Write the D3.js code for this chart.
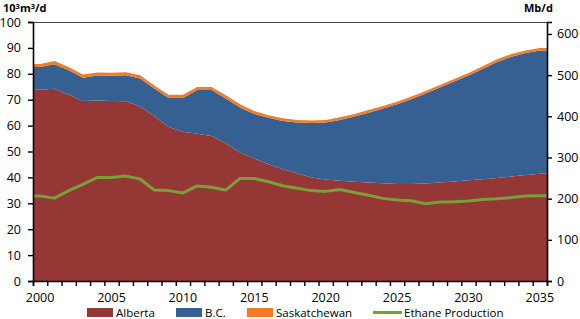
<!DOCTYPE html>
<html>
<head>
<meta charset="utf-8">
<script src="https://cdn.jsdelivr.net/npm/d3@7"></script>
<style>
  body { margin: 0; background: #fff; }
  svg text { font-family: "Open Sans", "Liberation Sans", sans-serif; fill: #000; }
</style>
</head>
<body>
<div id="container"></div>
<script>
// years on the x axis
const years = d3.range(2000, 2036);

// 10^3 m3/d
const alberta = [73.8, 74.2, 71.9, 69.5, 69.7, 69.5, 69.4, 67.4, 63.6, 59.5,
  57.6, 56.9, 56.0, 53.1, 49.6, 47.3, 45.1, 43.1, 41.6, 40.0,
  39.2, 38.7, 38.3, 38.0, 37.7, 37.5, 37.5, 37.6, 38.0, 38.4,
  38.9, 39.3, 39.8, 40.3, 40.9, 41.4];
const bc = [8.8, 9.5, 9.5, 9.0, 9.6, 9.7, 10.0, 10.8, 10.7, 11.2,
  13.1, 16.8, 17.7, 17.4, 17.4, 17.2, 17.9, 18.7, 19.6, 21.0,
  22.0, 23.5, 25.2, 27.0, 28.9, 30.7, 32.7, 34.8, 36.7, 38.6,
  40.4, 42.6, 44.8, 46.3, 47.1, 47.6];
const sask = [1.2, 1.2, 1.2, 1.2, 1.2, 1.2, 1.2, 1.2, 1.2, 1.2,
  1.2, 1.2, 1.2, 1.2, 1.2, 1.1, 1.0, 1.0, 1.0, 1.0,
  1.0, 1.0, 1.0, 1.0, 1.0, 1.0, 1.0, 1.0, 1.0, 1.0,
  1.0, 1.0, 1.0, 1.0, 1.0, 1.0];
const ethane = [32.8, 32.0, 34.9, 37.3, 40.0, 40.0, 40.5, 39.4, 35.1, 34.9,
  34.0, 36.7, 36.2, 35.1, 39.6, 39.6, 38.3, 36.8, 35.8, 34.9,
  34.6, 35.3, 34.2, 33.1, 31.9, 31.3, 31.0, 29.8, 30.5, 30.6,
  30.9, 31.5, 31.8, 32.2, 32.8, 32.9];

const leftTicks = d3.range(0, 101, 10);
const rightTicks = d3.range(0, 601, 100);
const xLabels = d3.range(2000, 2036, 5);

const seriesNames = ["Alberta", "B.C.", "Saskatchewan"];
const colors = { "Alberta": "#953735", "B.C.": "#376092", "Saskatchewan": "#F07C28" };
const lineColor = "#77A03A";

const W = 580, H = 319;
const m = { left: 33, right: 33, top: 22, bottom: 38 };

const svg = d3.select("#container").append("svg")
  .attr("width", W).attr("height", H);

const x = d3.scaleLinear().domain([1999.5, 2035.5]).range([m.left, W - m.right]);
const y = d3.scaleLinear().domain([0, 100]).range([H - m.bottom, m.top]);
// 1 10^3 m3/d = 6.29 Mb/d
const y2 = d3.scaleLinear().domain([0, 629]).range([H - m.bottom, m.top]);

// rows, with the end values carried out to the plot edges
const rows = years.map((yr, i) => ({ year: yr, "Alberta": alberta[i], "B.C.": bc[i], "Saskatchewan": sask[i], ethane: ethane[i] }));
const padded = [Object.assign({}, rows[0], { year: 1999.5 }), ...rows,
  Object.assign({}, rows[rows.length - 1], { year: 2035.5 })];

const stack = d3.stack().keys(seriesNames)(padded);

const area = d3.area()
  .x(d => x(d.data.year))
  .y0(d => y(d[0]))
  .y1(d => y(d[1]));

svg.append("g").selectAll("path")
  .data(stack)
  .join("path")
  .attr("d", area)
  .attr("fill", d => colors[d.key]);

svg.append("path")
  .datum(padded)
  .attr("fill", "none")
  .attr("stroke", lineColor)
  .attr("stroke-width", 3)
  .attr("stroke-linejoin", "round")
  .attr("d", d3.line().x(d => x(d.year)).y(d => y(d.ethane)));

// top border
svg.append("line")
  .attr("x1", m.left).attr("x2", W - m.right)
  .attr("y1", m.top + 0.5).attr("y2", m.top + 0.5)
  .attr("stroke", "#444").attr("stroke-width", 1);

// left axis
const gl = svg.append("g").attr("transform", `translate(${m.left},0)`)
  .call(d3.axisLeft(y).tickValues(leftTicks).tickSize(5).tickPadding(7));
// right axis
const gr = svg.append("g").attr("transform", `translate(${W - m.right},0)`)
  .call(d3.axisRight(y2).tickValues(rightTicks).tickSize(5).tickPadding(5));
// bottom axis: tick marks between years, labels every 5 years
const gb = svg.append("g").attr("transform", `translate(0,${H - m.bottom})`)
  .call(d3.axisBottom(x).tickValues(d3.range(1999.5, 2036, 1)).tickSize(5).tickFormat(""));
svg.append("g").selectAll("text")
  .data(xLabels)
  .join("text")
  .attr("x", d => x(d))
  .attr("y", H - m.bottom + 21)
  .attr("text-anchor", "middle")
  .attr("font-size", 12.5)
  .text(d => d);

[gl, gr, gb].forEach(g => {
  g.select(".domain").attr("stroke", "#000").attr("stroke-width", 1.6);
  g.selectAll(".tick line").attr("stroke", "#000").attr("stroke-width", 1.4);
  g.selectAll(".tick text").attr("font-size", 12.5).attr("fill", "#000")
    .style("font-family", "'Open Sans', sans-serif");
});

// unit labels
const lt = svg.append("text").attr("x", 3).attr("y", 12)
  .attr("font-size", 11).attr("font-weight", "bold");
lt.append("tspan").text("10");
lt.append("tspan").attr("dy", -3).attr("font-size", 7.5).text("3");
lt.append("tspan").attr("dy", 3).text("m");
lt.append("tspan").attr("dy", -3).attr("font-size", 7.5).text("3");
lt.append("tspan").attr("dy", 3).text("/d");

svg.append("text").attr("x", 524).attr("y", 12)
  .attr("font-size", 11).attr("font-weight", "bold").text("Mb/d");

// legend
const legendItems = [
  { name: "Alberta", x0: 87, type: "rect" },
  { name: "B.C.", x0: 176, type: "rect" },
  { name: "Saskatchewan", x0: 247, type: "rect" },
  { name: "Ethane Production", x0: 373, type: "line" }
];
const lg = svg.append("g");
legendItems.forEach(it => {
  if (it.type === "rect") {
    lg.append("rect").attr("x", it.x0).attr("y", 308).attr("width", 26).attr("height", 9)
      .attr("fill", colors[it.name]);
  } else {
    lg.append("line").attr("x1", it.x0).attr("x2", it.x0 + 29)
      .attr("y1", 312.5).attr("y2", 312.5)
      .attr("stroke", lineColor).attr("stroke-width", 3);
  }
  lg.append("text").attr("x", it.x0 + (it.type === "rect" ? 29 : 31)).attr("y", 317)
    .attr("font-size", 11.5).text(it.name);
});
</script>
</body>
</html>
